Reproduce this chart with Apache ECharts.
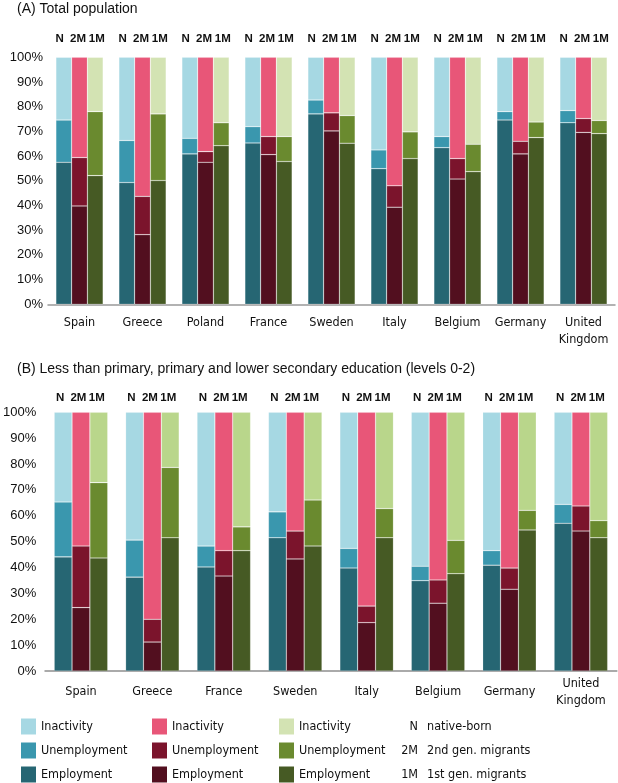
<!DOCTYPE html>
<html><head><meta charset="utf-8">
<script src="https://cdn.jsdelivr.net/npm/echarts@6/dist/echarts.min.js"></script>
<style>html,body{margin:0;padding:0;background:#fff}#c{width:618px;height:783px}</style>
</head><body><div id="c"></div>
<script>
// Panel A: Total population
const catA = ['Spain','Greece','Poland','France','Sweden','Italy','Belgium','Germany','United\nKingdom'];
const aN_emp   = [57.5, 49.3, 60.9, 65.3, 77.1, 54.9, 63.4, 74.6, 73.5];
const aN_unemp = [17.1, 17.0, 6.3, 6.6, 5.6, 7.6, 4.5, 3.4, 4.9];
const aN_inact = [25.4, 33.7, 32.8, 28.1, 17.3, 37.5, 32.1, 22.0, 21.6];
const a2_emp   = [39.8, 28.2, 57.5, 60.6, 70.2, 39.3, 50.7, 60.9, 69.6];
const a2_unemp = [19.6, 15.5, 4.3, 7.3, 7.3, 8.7, 8.3, 5.1, 5.6];
const a2_inact = [40.6, 56.3, 38.2, 32.1, 22.5, 52.0, 41.0, 34.0, 24.8];
const a1_emp   = [52.1, 50.1, 64.2, 57.8, 65.2, 59.0, 53.7, 67.5, 69.1];
const a1_unemp = [25.9, 27.0, 9.3, 10.1, 11.2, 10.8, 11.1, 6.3, 5.3];
const a1_inact = [22.0, 22.9, 26.5, 32.1, 23.6, 30.2, 35.2, 26.2, 25.6];

// Panel B: levels 0-2
const catB = ['Spain','Greece','France','Sweden','Italy','Belgium','Germany','United\nKingdom'];
const bN_emp   = [44.1, 36.3, 40.2, 51.5, 39.8, 34.9, 40.9, 57.1];
const bN_unemp = [21.2, 14.3, 8.1, 10.0, 7.6, 5.6, 5.6, 7.3];
const bN_inact = [34.7, 49.4, 51.7, 38.5, 52.6, 59.5, 53.5, 35.6];
const b2_emp   = [24.5, 11.2, 36.7, 43.3, 18.7, 26.2, 31.6, 54.1];
const b2_unemp = [23.8, 8.8, 9.8, 10.8, 6.4, 9.0, 8.2, 9.7];
const b2_inact = [51.7, 80.0, 53.5, 45.9, 74.9, 64.8, 60.2, 36.2];
const b1_emp   = [43.7, 51.5, 46.5, 48.3, 51.5, 37.6, 54.5, 51.5];
const b1_unemp = [29.1, 27.2, 9.2, 17.8, 11.3, 12.9, 7.6, 6.6];
const b1_inact = [27.2, 21.3, 44.3, 33.9, 37.2, 49.5, 37.9, 41.9];

const groupCodes = ['N','2M','1M'];
const groupNames = ['native-born','2nd gen. migrants','1st gen. migrants'];
const parts = ['Employment','Unemployment','Inactivity'];

const colors = {
  N:  ['#266673','#3a97ae','#a6d8e3'],
  '2M': ['#520f1f','#7b142c','#e85678'],
  '1M': ['#465a24','#6a8a2f','#d3e3b3']
};
const inact1M_B = '#b9d68b';

const FONT = "'DejaVu Sans Condensed','Liberation Sans',sans-serif";
const FONT2 = "'Liberation Sans',sans-serif";

function makeSeries(panel, idx, data, labelDist, offsets) {
  const out = [];
  groupCodes.forEach((g, gi) => {
    parts.forEach((p, pi) => {
      let col = colors[g][pi];
      if (panel === 'B' && g === '1M' && pi === 2) col = inact1M_B;
      const s = {
        type: 'bar',
        name: g + '|' + p,
        stack: panel + g,
        xAxisIndex: idx, yAxisIndex: idx,
        data: data[gi][pi],
        barGap: '0%',
        barCategoryGap: '25%',
        itemStyle: { color: col, borderColor: 'rgba(255,255,255,0.3)', borderWidth: 0.6 },
        emphasis: { disabled: true },
        animation: false
      };
      if (pi === 2) {
        s.label = {
          show: true, position: 'top', distance: labelDist,
          offset: [offsets[gi], 0],
          formatter: g, color: '#111', fontWeight: 'bold',
          fontSize: 11.5, fontFamily: FONT2
        };
      }
      out.push(s);
    });
  });
  return out;
}

const dataA = [[aN_emp,aN_unemp,aN_inact],[a2_emp,a2_unemp,a2_inact],[a1_emp,a1_unemp,a1_inact]];
const dataB = [[bN_emp,bN_unemp,bN_inact],[b2_emp,b2_unemp,b2_inact],[b1_emp,b1_unemp,b1_inact]];

const yAxisBase = (margin) => ({
  type: 'value', min: 0, max: 100, interval: 10,
  axisLine: { show: false }, axisTick: { show: false }, splitLine: { show: false },
  axisLabel: { formatter: '{value}%', color: '#111', fontSize: 13, fontFamily: FONT2, margin: margin }
});

const legends = groupCodes.map((g, gi) => ({
  orient: 'vertical',
  left: [21, 152, 279][gi],
  top: 718.5,
  padding: 0,
  itemWidth: 15, itemHeight: 16, itemGap: 8,
  icon: 'rect',
  selectedMode: false,
  itemStyle: { borderWidth: 0 },
  data: ['Inactivity','Unemployment','Employment'].map(p => g + '|' + p),
  formatter: n => n.split('|')[1],
  textStyle: { color: '#111', fontSize: 12.5, fontFamily: FONT }
}));

const graphics = [];
groupCodes.forEach((g, gi) => {
  const y = 727 + gi * 24;
  graphics.push({ type: 'text', x: 418, y: y, style: { text: g, fill: '#111', font: '12.5px ' + FONT, textAlign: 'right', textVerticalAlign: 'middle' } });
  graphics.push({ type: 'text', x: 427, y: y, style: { text: groupNames[gi], fill: '#111', font: '12.5px ' + FONT, textAlign: 'left', textVerticalAlign: 'middle' } });
});

const chart = echarts.init(document.getElementById('c'), null, { renderer: 'canvas' });
chart.setOption({
  backgroundColor: '#fff',
  animation: false,
  title: [
    { text: '(A) Total population', left: 12, top: -3, textStyle: { fontSize: 14, fontWeight: 'normal', color: '#111', fontFamily: FONT2 } },
    { text: '(B) Less than primary, primary and lower secondary education (levels 0-2)', left: 12, top: 357, textStyle: { fontSize: 14, fontWeight: 'normal', color: '#111', fontFamily: FONT2 } }
  ],
  legend: legends,
  grid: [
    { left: 48, top: 57.3, width: 567, height: 247 },
    { left: 43, top: 412.3, width: 573.6, height: 258.7 }
  ],
  xAxis: [
    { type: 'category', gridIndex: 0, data: catA,
      axisTick: { show: false },
      axisLine: { lineStyle: { color: '#999', width: 1.5 } },
      axisLabel: { color: '#111', fontSize: 12.5, fontFamily: FONT, margin: 10, lineHeight: 17, interval: 0 } },
    { type: 'category', gridIndex: 1, data: catB,
      axisTick: { show: false },
      axisLine: { lineStyle: { color: '#aaa', width: 2 } },
      axisLabel: { color: '#111', fontSize: 12.5, fontFamily: FONT, margin: 21, lineHeight: 17, verticalAlign: 'middle', interval: 0 } }
  ],
  yAxis: [
    Object.assign(yAxisBase(5), { gridIndex: 0 }),
    Object.assign(yAxisBase(9), { gridIndex: 1 })
  ],
  graphic: graphics,
  series: makeSeries('A', 0, dataA, 12, [-4, -1.5, 1.5]).concat(makeSeries('B', 1, dataB, 8, [-3, -2.5, -2]))
});
</script>
</body></html>
